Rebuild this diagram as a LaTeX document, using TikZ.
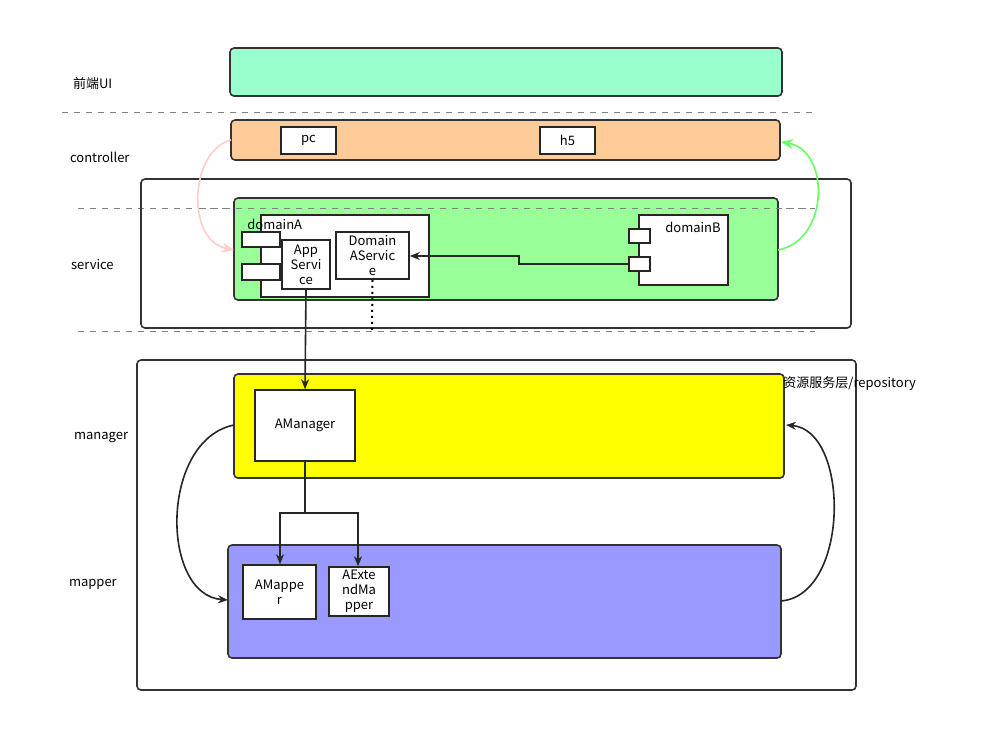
\documentclass[tikz,border=0pt]{standalone}
\usepackage{fontspec}
\setmainfont{Noto Sans CJK SC}
\usetikzlibrary{arrows.meta}
\definecolor{mint}{HTML}{99FFCC}
\definecolor{peach}{HTML}{FFCC99}
\definecolor{lgreen}{HTML}{99FF99}
\definecolor{lviolet}{HTML}{9999FF}
\definecolor{pinkarr}{HTML}{FFCCCC}
\definecolor{greenarr}{HTML}{66FF66}
\definecolor{yel}{HTML}{FFFF00}
\begin{document}
\begin{tikzpicture}[x=0.5pt,y=-0.5pt,
  every node/.style={font=\fontsize{6.5}{7.5}\selectfont},
  layer/.style={draw=black!80,line width=0.8pt,rounded corners=2pt},
  box/.style={draw=black!85,line width=0.8pt,fill=white},
  sep/.style={draw=gray,dashed,line width=0.5pt},
  arr/.style={-{Stealth[length=5pt,width=4pt]},line width=0.8pt,draw=black!85},
  lbl/.style={anchor=west}]
\useasboundingbox (0,0) rectangle (994,752);
\draw[sep] (62,112) -- (815,112);
\draw[sep] (78,208) -- (815,208);
\draw[sep] (78,331) -- (815,331);
\draw[layer,fill=mint] (230,48) rectangle (782,96);
\draw[layer,fill=peach] (231,120) rectangle (780,160);
\node[box,minimum width=27.5pt,minimum height=13.5pt] (pc) at (308.5,140.5) {pc};
\node[box,minimum width=27.5pt,minimum height=13.5pt] (h5) at (567.5,140.5) {h5};
\draw[layer] (141,179) rectangle (851,328);
\draw[layer,fill=lgreen] (234,198) rectangle (778,300);
\draw[sep] (200,208) -- (815,208);
\draw[box] (261,215) rectangle (429,297);
\node[lbl,inner sep=0] (dA) at (247,224) {domainA};
\draw[box] (242,232) rectangle (280,247);
\draw[box] (242,264) rectangle (280,280);
\node[box,minimum width=24pt,minimum height=24.5pt,inner sep=0,align=center] (app) at (306,264.5) {App\\Servi\\ce};
\node[box,minimum width=36.5pt,minimum height=23.5pt,inner sep=0,align=center] (das) at (372.5,255.5) {Domain\\AServic\\e};
\draw[box] (639,215) rectangle (728,285);
\node (dB) at (693,227) {domainB};
\draw[box] (629,229) rectangle (650,243);
\draw[box] (629,257) rectangle (650,271);
\coordinate (bp) at (629,264);
\draw[arr] (bp) -- (519,264) -- (519,256) -- (das.east |- 0,256);
\coordinate (cl) at (231,140);
\coordinate (gl) at (234,250);
\draw[-{Stealth[length=6pt,width=5pt]},draw=pinkarr,line width=0.8pt] (cl) .. controls (190,150) and (185,240) .. (gl);
\coordinate (gr) at (778,250);
\coordinate (cr) at (781,142);
\draw[-{Stealth[length=6pt,width=5pt]},draw=greenarr,line width=0.8pt] (gr) .. controls (830,240) and (830,150) .. (cr);
\draw[layer] (137,360) rectangle (856,690);
\draw[layer,fill=yel] (234,374) rectangle (784,478);
\node[box,minimum width=50pt,minimum height=35.5pt] (am) at (305,425.5) {AManager};
\draw[arr] (app.south) -- (am.north);
\draw[dotted,line width=1pt] (das.south) -- (372,330);
\draw[layer,fill=lviolet] (228,545) rectangle (781,658);
\node[box,minimum width=36.5pt,minimum height=27pt,inner sep=0,align=center] (amp) at (279.5,592) {AMappe\\r};
\node[box,minimum width=30pt,minimum height=24.5pt,inner sep=0,align=center] (aem) at (359,591.5) {AExte\\ndMa\\pper};
\draw[arr] (am.south) -- (305,513) -- (280,513) -- (amp.north -| 280,0);
\draw[arr] (305,513) -- (358,513) -- (aem.north -| 358,0);
\coordinate (yl) at (234,425);
\coordinate (pl) at (228,600);
\draw[arr] (yl) .. controls (160,440) and (160,595) .. (pl);
\coordinate (pr) at (781,601);
\coordinate (yr) at (786,425);
\draw[arr] (pr) .. controls (850,595) and (850,430) .. (yr);
\node[lbl] at (66,84) {前端UI};
\node[lbl] at (63,157) {controller};
\node[lbl] at (64,265) {service};
\node[lbl] at (67,437) {manager};
\node[lbl] at (62,584) {mapper};
\node[lbl,inner sep=0] at (783,384) {资源服务层/repository};
\end{tikzpicture}
\end{document}
